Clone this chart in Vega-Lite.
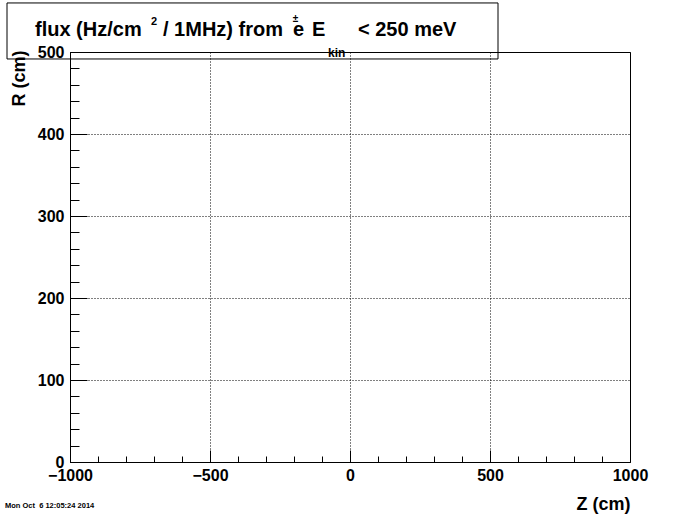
{
  "$schema": "https://vega.github.io/schema/vega-lite/v6.json",
  "width": 560,
  "height": 410,
  "autosize": {"type": "none"},
  "padding": {"left": 70, "top": 52, "right": 70, "bottom": 52},
  "background": "white",
  "config": {
    "view": {"stroke": "black", "strokeWidth": 1},
    "axis": {
      "domainColor": "black",
      "tickColor": "black",
      "labelColor": "black",
      "titleColor": "black",
      "labelFont": "Liberation Sans",
      "labelFontWeight": "bold",
      "labelFontSize": 16,
      "titleFont": "Liberation Sans",
      "titleFontWeight": "bold",
      "titleFontSize": 18,
      "gridColor": "black",
      "gridDash": [1, 2],
      "gridWidth": 1,
      "labelOverlap": false,
      "labelFlush": false
    },
    "text": {"font": "Liberation Sans", "fontWeight": "bold", "color": "black"}
  },
  "layer": [
    {
      "data": {"values": []},
      "mark": {"type": "rect"},
      "encoding": {
        "x": {
          "field": "z", "type": "quantitative",
          "scale": {"domain": [-1000, 1000], "nice": false, "zero": false},
          "axis": {
            "title": "Z (cm)",
            "values": [-1000,-900,-800,-700,-600,-500,-400,-300,-200,-100,0,100,200,300,400,500,600,700,800,900,1000],
            "tickCount": 100,
            "format": "d",
            "labelExpr": "datum.value % 500 === 0 ? datum.label : ''",
            "tickSize": {"condition": {"test": "datum.value % 500 === 0", "value": -12}, "value": -6},
            "grid": true,
            "gridOpacity": {"condition": {"test": "datum.value % 500 === 0", "value": 1}, "value": 0},
            "labelPadding": 17,
            "titleAnchor": "end",
            "titleAlign": "right",
            "titleBaseline": "alphabetic",
            "titleX": 560,
            "titleY": 47
          }
        },
        "y": {
          "field": "r", "type": "quantitative",
          "scale": {"domain": [0, 500], "nice": false, "zero": false},
          "axis": {
            "title": "R (cm)",
            "values": [0,20,40,60,80,100,120,140,160,180,200,220,240,260,280,300,320,340,360,380,400,420,440,460,480,500],
            "tickCount": 100,
            "format": "d",
            "labelExpr": "datum.value % 100 === 0 ? datum.label : ''",
            "tickSize": {"condition": {"test": "datum.value % 100 === 0", "value": -17}, "value": -9},
            "grid": true,
            "gridOpacity": {"condition": {"test": "datum.value % 100 === 0", "value": 1}, "value": 0},
            "labelPadding": 23,
            "titleAnchor": "end",
            "titleAlign": "right",
            "titleAngle": 270,
            "titleBaseline": "alphabetic",
            "titleX": -46,
            "titleY": -2
          }
        }
      }
    },
    {
      "data": {"values": [{}]},
      "mark": {"type": "rect", "fill": null, "fillOpacity": 0, "stroke": "black", "strokeWidth": 1, "clip": false},
      "encoding": {
        "x": {"datum": -1225, "type": "quantitative"},
        "x2": {"datum": 528.6},
        "y": {"datum": 559.8, "type": "quantitative"},
        "y2": {"datum": 491.5}
      }
    },
    {
      "data": {"values": [{}]},
      "mark": {"type": "text", "align": "left", "baseline": "alphabetic", "fontSize": 20, "text": "flux (Hz/cm"},
      "encoding": {"x": {"datum": -1125, "type": "quantitative"}, "y": {"datum": 519.5, "type": "quantitative"}}
    },
    {
      "data": {"values": [{}]},
      "mark": {"type": "text", "align": "left", "baseline": "alphabetic", "fontSize": 11, "text": "2"},
      "encoding": {"x": {"datum": -710.7, "type": "quantitative"}, "y": {"datum": 532.9, "type": "quantitative"}}
    },
    {
      "data": {"values": [{}]},
      "mark": {"type": "text", "align": "left", "baseline": "alphabetic", "fontSize": 20, "text": "/ 1MHz) from"},
      "encoding": {"x": {"datum": -667.9, "type": "quantitative"}, "y": {"datum": 519.5, "type": "quantitative"}}
    },
    {
      "data": {"values": [{}]},
      "mark": {"type": "text", "align": "left", "baseline": "alphabetic", "fontSize": 20, "text": "e"},
      "encoding": {"x": {"datum": -203.6, "type": "quantitative"}, "y": {"datum": 519.5, "type": "quantitative"}}
    },
    {
      "data": {"values": [{}]},
      "mark": {"type": "text", "align": "center", "baseline": "alphabetic", "fontSize": 10, "text": "±"},
      "encoding": {"x": {"datum": -194.6, "type": "quantitative"}, "y": {"datum": 536.6, "type": "quantitative"}}
    },
    {
      "data": {"values": [{}]},
      "mark": {"type": "text", "align": "left", "baseline": "alphabetic", "fontSize": 20, "text": "E"},
      "encoding": {"x": {"datum": -135.7, "type": "quantitative"}, "y": {"datum": 519.5, "type": "quantitative"}}
    },
    {
      "data": {"values": [{}]},
      "mark": {"type": "text", "align": "left", "baseline": "alphabetic", "fontSize": 12, "text": "kin"},
      "encoding": {"x": {"datum": -78.6, "type": "quantitative"}, "y": {"datum": 493.9, "type": "quantitative"}}
    },
    {
      "data": {"values": [{}]},
      "mark": {"type": "text", "align": "left", "baseline": "alphabetic", "fontSize": 20, "text": "< 250 meV"},
      "encoding": {"x": {"datum": 28.6, "type": "quantitative"}, "y": {"datum": 519.5, "type": "quantitative"}}
    },
    {
      "data": {"values": [{}]},
      "mark": {"type": "text", "align": "left", "baseline": "alphabetic", "fontSize": 7.5, "text": "Mon Oct\u00a0 6 12:05:24 2014"},
      "encoding": {"x": {"datum": -1232.1, "type": "quantitative"}, "y": {"datum": -55.5, "type": "quantitative"}}
    }
  ]
}
